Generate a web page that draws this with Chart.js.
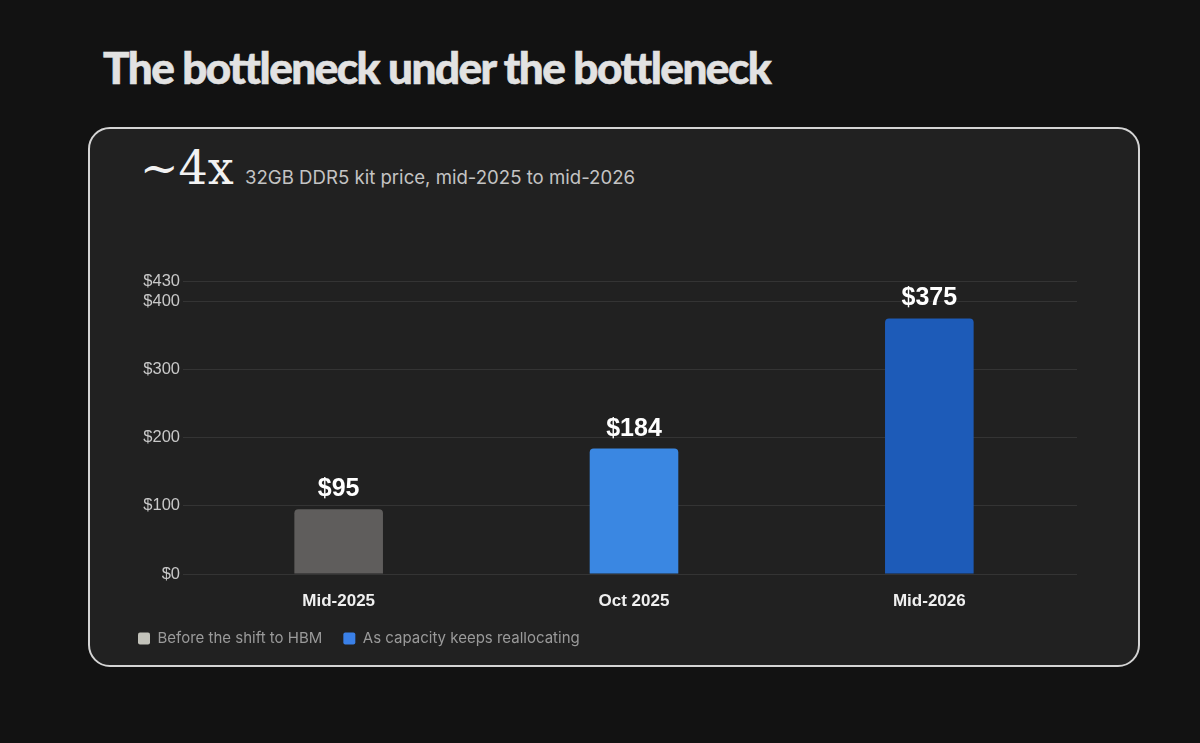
<!DOCTYPE html>
<html>
<head>
<meta charset="utf-8">
<script src="https://cdn.jsdelivr.net/npm/chart.js@4/dist/chart.umd.min.js"></script>
<style>
	html, body { margin: 0; padding: 0; background: #121212; width: 1200px; height: 743px; overflow: hidden; }
	#title {
		position: absolute; left: 103px; top: 41px;
		font-family: "Lato", sans-serif; font-weight: 900; font-size: 44px;
		color: #e2e2e2; letter-spacing: -1.5px; white-space: nowrap;
		-webkit-text-stroke: 0.6px #e2e2e2;
	}
	#card {
		position: absolute; left: 88px; top: 127px; width: 1048px; height: 536px;
		border: 2px solid #d4d4d4; border-radius: 22px; background: #212121;
	}
	#big {
		position: absolute; left: 140px; top: 141px;
		font-family: "DejaVu Serif", serif; font-size: 46px; color: #f2f2f2; white-space: nowrap;
	}
	#sub {
		position: absolute; left: 245px; top: 166px;
		font-family: "Inter", sans-serif; font-size: 18.6px; color: #c4c4c4; white-space: nowrap;
	}
	#wrap { position: absolute; left: 88px; top: 250px; width: 1052px; height: 410px; }
</style>
</head>
<body>
<div id="title">The bottleneck under the bottleneck</div>
<div id="card"></div>
<div id="big">~4x</div>
<div id="sub">32GB DDR5 kit price, mid-2025 to mid-2026</div>
<div id="wrap"><canvas id="price-canvas"></canvas></div>
<script>
const categories = ["Mid-2025", "Oct 2025", "Mid-2026"];
const prices = [95, 184, 375];
const yTicks = [0, 100, 200, 300, 400, 430];
const legendLabels = ["Before the shift to HBM", "As capacity keeps reallocating"];

const barColors = ["#5f5d5c", "#3a87e2", "#1d5bb8"];
const legendColors = ["#c2c2ba", "#3a80e8"];

// value labels above each bar
const valueLabels = {
	id: "valueLabels",
	afterDatasetsDraw(chart) {
		const ctx = chart.ctx;
		const meta = chart.getDatasetMeta(0);
		ctx.save();
		ctx.font = "bold 25px 'Liberation Sans', Arial, sans-serif";
		ctx.fillStyle = "#ffffff";
		ctx.textAlign = "center";
		ctx.textBaseline = "alphabetic";
		meta.data.forEach((bar, i) => {
			ctx.fillText("$" + prices[i], bar.x, bar.y - 13);
		});
		ctx.restore();
	},
};

const priceCanvas = document.getElementById("price-canvas").getContext("2d");

const priceChart = new Chart(priceCanvas, {
	type: "bar",

	data: {
		labels: categories,
		datasets: [
			{
				data: prices,
				backgroundColor: barColors,
				borderRadius: 4,
				barPercentage: 0.3,
				categoryPercentage: 1,
			},
		],
	},

	options: {
		responsive: true,
		maintainAspectRatio: false,
		animation: false,
		layout: {
			padding: { left: 29, right: 63, top: 31, bottom: 4 },
		},
		plugins: {
			tooltip: { enabled: false },
			legend: {
				position: "bottom",
				align: "start",
				labels: {
					boxWidth: 12,
					boxHeight: 12,
					useBorderRadius: true,
					borderRadius: 2,
					padding: 21,
					color: "#9a9a9a",
					font: { family: "Inter", size: 15 },
					generateLabels: () =>
						legendLabels.map((text, i) => ({
							text: text,
							fillStyle: legendColors[i],
							strokeStyle: legendColors[i],
							lineWidth: 0,
							borderRadius: 2,
							fontColor: "#9a9a9a",
						})),
				},
			},
		},
		scales: {
			x: {
				grid: { display: false },
				border: { display: false },
				afterFit: (scale) => {
					scale.height = 36;
				},
				ticks: {
					padding: 9,
					color: "#f0f0f0",
					font: { family: "Liberation Sans", size: 17, weight: "bold" },
				},
			},
			y: {
				min: 0,
				max: 430,
				afterBuildTicks: (scale) => {
					scale.ticks = yTicks.map((v) => ({ value: v }));
				},
				afterFit: (scale) => {
					scale.width = 74;
				},
				grid: { color: "#343434", lineWidth: 1, tickLength: 8 },
				border: { display: false },
				ticks: {
					padding: 3,
					color: "#c8c8c8",
					font: { family: "Liberation Sans", size: 16.5 },
					callback: (v) => "$" + v,
				},
			},
		},
	},
	plugins: [valueLabels],
});
</script>
</body>
</html>
